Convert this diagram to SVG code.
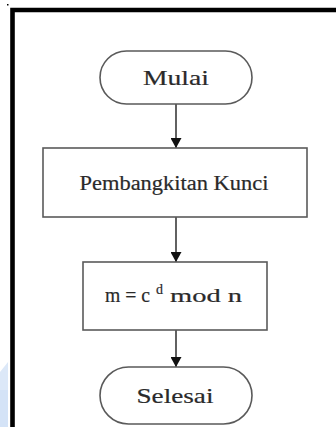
<svg xmlns="http://www.w3.org/2000/svg" width="336" height="427" viewBox="0 0 336 427">
<style>
.shape{fill:#fff;stroke:#5a5a5a;stroke-width:1.6}
.lbl{font-family:"Liberation Serif","Times New Roman",serif;fill:#2a2a2a;stroke:#2a2a2a;stroke-width:0.2;text-anchor:middle}
.st{text-anchor:start}
.conn{stroke:#3a3a3a;stroke-width:1.6;fill:none}
</style>
<defs>
<marker id="ah" markerWidth="10" markerHeight="11" refX="10" refY="5.5" orient="auto" markerUnits="userSpaceOnUse">
<path d="M0,0 L10,5.5 L0,11 Z" fill="#111"/>
</marker>
</defs>
<rect width="336" height="427" fill="#fff"/>
<path d="M0,372 L8,362 L8,427 L0,427 Z" fill="#dce8f8"/>
<rect x="0" y="390" width="8" height="37" fill="#d4e3f7"/>
<rect x="7" y="4" width="1.5" height="1.5" fill="#000"/>
<path d="M12.5,430 L12.5,10 L340,10" fill="none" stroke="#000" stroke-width="4.6"/>
<g id="connectors">
<line class="conn" x1="176" y1="104" x2="176" y2="148" marker-end="url(#ah)"/>
<line class="conn" x1="176" y1="217" x2="176" y2="262" marker-end="url(#ah)"/>
<line class="conn" x1="176" y1="330" x2="176" y2="367" marker-end="url(#ah)"/>
</g>
<g id="mulai">
<rect class="shape" x="100" y="51" width="152" height="53" rx="26.5"/>
<text class="lbl" x="176" y="85" font-size="22" textLength="66" lengthAdjust="spacingAndGlyphs">Mulai</text>
</g>
<g id="pembangkitan">
<rect class="shape" x="43" y="148" width="264" height="69"/>
<text class="lbl" x="174" y="190" font-size="20" textLength="189" lengthAdjust="spacingAndGlyphs">Pembangkitan Kunci</text>
</g>
<g id="dekripsi">
<rect class="shape" x="83" y="262" width="184" height="68"/>
<text class="lbl st" x="105" y="302" font-size="20" textLength="45" lengthAdjust="spacingAndGlyphs">m = c</text>
<text class="lbl st" x="156" y="294" font-size="14">d</text>
<text class="lbl st" x="170" y="302" font-size="19" textLength="72" lengthAdjust="spacingAndGlyphs">mod n</text>
</g>
<g id="selesai">
<rect class="shape" x="100" y="367" width="152" height="57" rx="28.5"/>
<text class="lbl" x="175" y="403" font-size="22" textLength="77" lengthAdjust="spacingAndGlyphs">Selesai</text>
</g>
</svg>
